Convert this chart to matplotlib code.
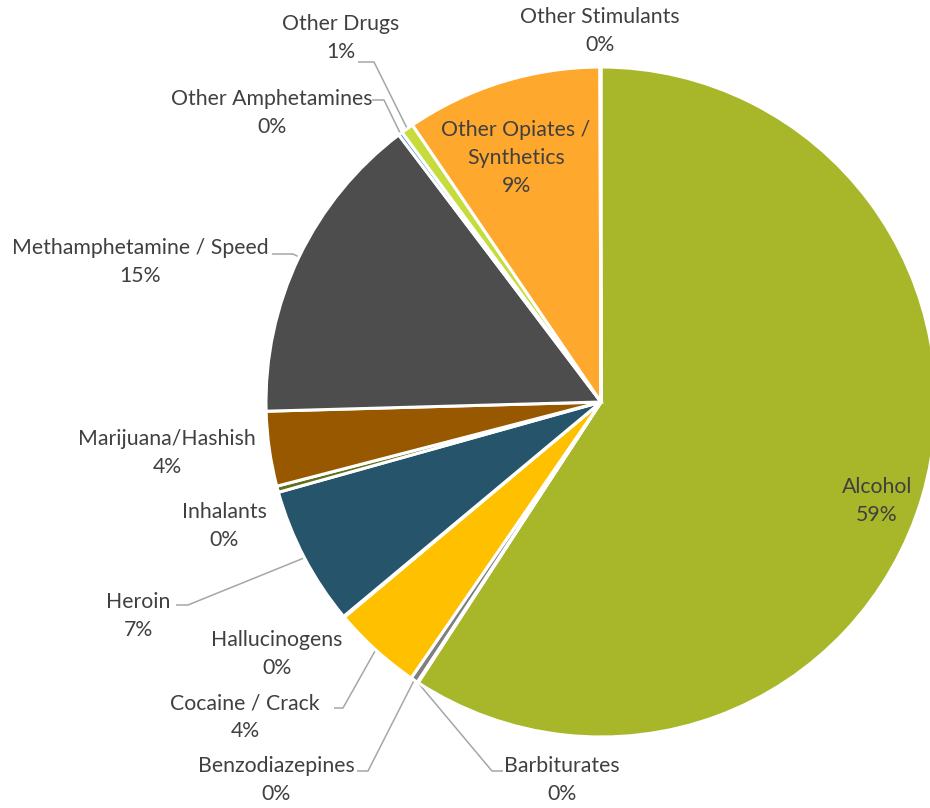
import matplotlib
matplotlib.use("Agg")
import matplotlib.pyplot as plt
import numpy as np

categories = ["Alcohol", "Barbiturates", "Benzodiazepines", "Cocaine / Crack", "Hallucinogens",
              "Heroin", "Inhalants", "Marijuana/Hashish", "Methamphetamine / Speed",
              "Other Amphetamines", "Other Drugs", "Other Opiates /\nSynthetics", "Other Stimulants"]
values = [59.1, 0.05, 0.35, 4.3, 0.05, 6.7, 0.3, 3.6, 15.1, 0.2, 0.6, 9.45, 0.05]
colors = ["#A8B72A", "#A5A5A5", "#7F7F7F", "#FFC000", "#5B9BD5", "#26546B", "#636E1A",
          "#975800", "#4D4D4D", "#5B9BD5", "#C6DB3C", "#FFA82E", "#9E480E"]

# label centre positions (pixel coords, y down) and leader start (x0, x1, y) or None
label_pos = [(877, 501), (562, 780), (276, 780), (245, 717), (277, 654), (138, 616),
             (224, 526), (167, 453), (140, 262), (272, 113), (341, 38), (516, 158), (600, 31)]
leaders = [None, (503, 492, 771), (357, 368, 771), (334, 343, 708), None, (176, 188, 605),
           None, None, (272, 293, 254), (372, 384, 100), (358, 374, 62), None, None]

W, H = 930, 808
fig = plt.figure(figsize=(W / 100, H / 100), dpi=100)
ax = fig.add_axes([0, 0, 1, 1])

cx, cy, R = 601, H - 402, 335
wedges, _ = ax.pie(values, colors=colors, startangle=90, counterclock=False,
                   center=(cx, cy), radius=R, frame=True,
                   wedgeprops=dict(edgecolor="white", linewidth=2.2))
ax.set_xlim(0, W)
ax.set_ylim(0, H)
ax.set_aspect("equal")
ax.axis("off")

total = sum(values)
tcol = "#404040"
for i, (name, v) in enumerate(zip(categories, values)):
    pct = f"{round(v / total * 100):.0f}%"
    x, y = label_pos[i]
    ax.text(x, H - y, f"{name}\n{pct}", ha="center", va="center", fontsize=15.3,
            color=tcol, family="Lato", linespacing=1.5)
    if leaders[i] is not None:
        x0, x1, ly = leaders[i]
        w = wedges[i]
        mid = np.deg2rad((w.theta1 + w.theta2) / 2)
        ex, ey = cx + R * np.cos(mid), cy + R * np.sin(mid)
        ax.plot([x0, x1, ex], [H - ly, H - ly, ey], color="#A6A6A6", lw=1.1,
                solid_capstyle="butt", zorder=0.5)

fig.savefig("out.png", dpi=100, facecolor="white")
